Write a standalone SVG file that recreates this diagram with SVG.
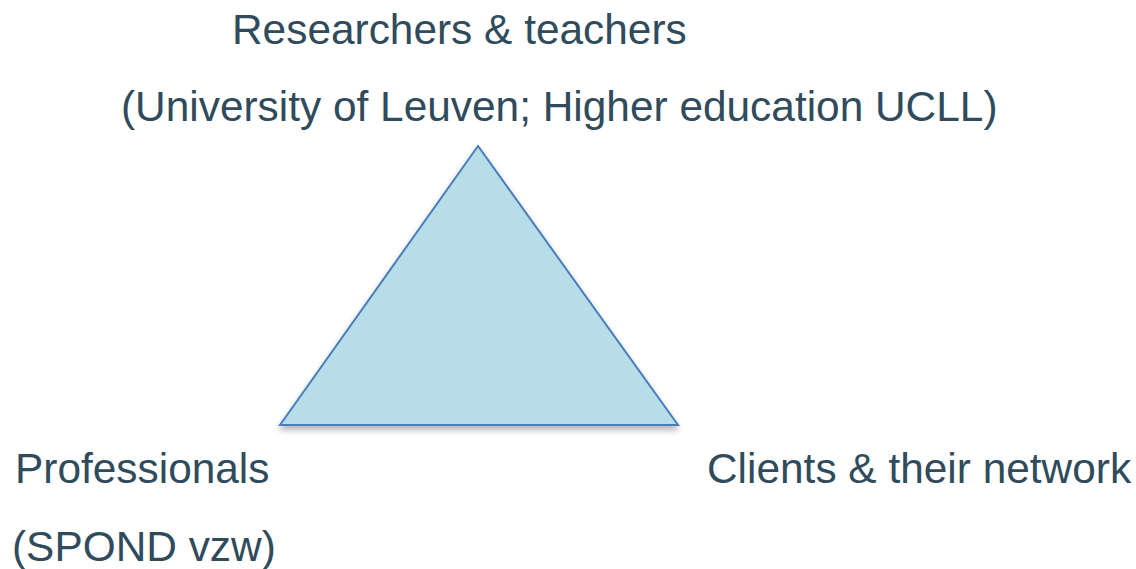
<svg xmlns="http://www.w3.org/2000/svg" width="1136" height="569" viewBox="0 0 1136 569">
  <style>
    .label { font-family: "Liberation Sans", Arial, sans-serif; font-size: 42.4px; fill: #2F4B5C; }
    .tri { fill: #B7DDE8; stroke: #4A7EBB; stroke-width: 2; stroke-linejoin: miter; }
  </style>
  <defs>
    <filter id="softShadow" x="-10%" y="-10%" width="120%" height="130%">
      <feGaussianBlur in="SourceAlpha" stdDeviation="3"/>
      <feOffset dx="0" dy="4" result="blur"/>
      <feComponentTransfer><feFuncA type="linear" slope="0.3"/></feComponentTransfer>
      <feMerge><feMergeNode/><feMergeNode in="SourceGraphic"/></feMerge>
    </filter>
  </defs>
  <rect width="1136" height="569" fill="#FFFFFF"/>

  <!-- central triangle -->
  <g id="triangle">
    <polygon class="tri" points="478,146 280,425 678,425" filter="url(#softShadow)"/>
  </g>

  <!-- top vertex: researchers -->
  <g id="researchers">
    <text class="label" x="232" y="44">Researchers &amp; teachers</text>
    <text class="label" x="121" y="121">(University of Leuven; Higher education UCLL)</text>
  </g>

  <!-- bottom-left vertex: professionals -->
  <g id="professionals">
    <text class="label" x="15" y="483">Professionals</text>
    <text class="label" x="12" y="561">(SPOND vzw)</text>
  </g>

  <!-- bottom-right vertex: clients -->
  <g id="clients">
    <text class="label" x="707" y="483">Clients &amp; their network</text>
  </g>

  <g id="connectors"></g>
</svg>
